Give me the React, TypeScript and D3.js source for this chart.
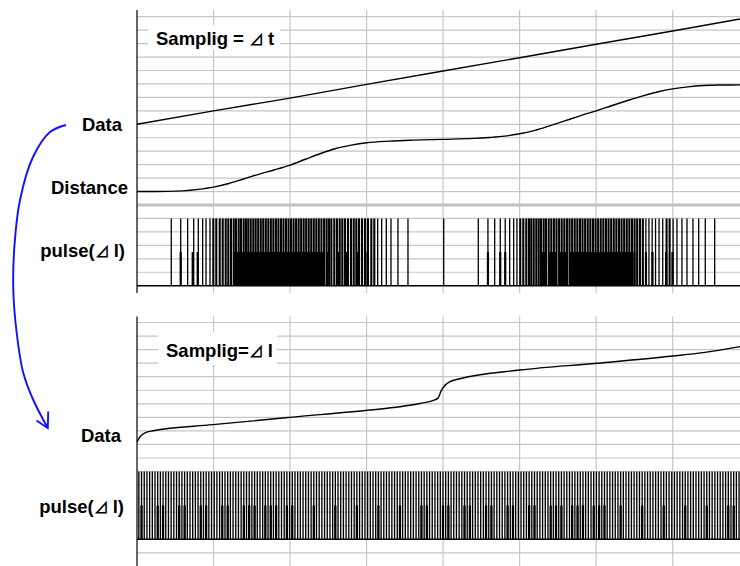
import React from 'react';
import * as d3 from 'd3';

// ---------- Upper chart: sampling every Δt (x = time, grid every 10) ----------
const TIME_GRID = [0, 10, 20, 30, 40, 50, 60, 70, 80];
const TOP_LEVELS = d3.range(0, 21);

const DATA_T = [0, 10, 20, 30, 40, 50, 60, 70, 80];
const DATA_V = [12, 13, 13.95, 14.97, 15.96, 16.95, 17.95, 18.94, 19.95];

const DIST_T = [0, 4, 6, 8, 10, 12, 14, 16, 18, 20, 22, 24, 26, 28, 30, 33, 36, 40, 44, 46, 48, 50, 52, 54, 56, 58, 60, 62, 64, 66, 68, 70, 72, 74, 76, 80];
const DIST_V = [7.0, 7.01, 7.05, 7.16, 7.33, 7.6, 7.95, 8.3, 8.62, 8.97, 9.4, 9.83, 10.2, 10.45, 10.63, 10.75, 10.82, 10.88, 10.95, 11.02, 11.12, 11.3, 11.55, 11.9, 12.27, 12.65, 13.0, 13.38, 13.75, 14.1, 14.4, 14.63, 14.78, 14.88, 14.92, 14.93];

// pulse times (one pulse per Δl of distance)
const TOP_PULSES = [
  4.48, 5.71, 6.62, 7.41, 8.01, 8.58, 9.02, 9.54, 9.97, 10.36, 10.81, 11.2, 11.59, 11.93, 12.28, 12.64, 12.94, 13.29, 13.59, 13.94, 14.24, 14.54, 14.86, 15.2, 15.51,
  15.84, 16.17, 16.5, 16.83, 17.16, 17.49, 17.82, 18.15, 18.48, 18.81, 19.14, 19.47, 19.8, 20.13, 20.46, 20.79, 21.12, 21.45, 21.78, 22.11, 22.44, 22.77, 23.1, 23.43, 23.76,
  24.1, 24.45, 24.78, 25.1, 25.4, 25.78, 26.13, 26.49, 26.83, 27.18, 27.57, 27.96, 28.32, 28.66, 29.01, 29.4, 29.79, 30.18, 30.62, 31.01, 31.45, 31.97, 32.58, 33.19, 34.1, 35.41,
  40.08, 44.6, 45.86, 46.74,
  47.47, 48.12, 48.7, 49.22, 49.65, 50.08, 50.48, 50.87, 51.22, 51.52, 51.84, 52.18, 52.49, 52.79, 53.14, 53.44, 53.8, 54.14, 54.48, 54.82, 55.16, 55.5, 55.84, 56.18,
  56.52, 56.86, 57.2, 57.54, 57.88, 58.22, 58.56, 58.9, 59.24, 59.58, 59.92, 60.26, 60.6, 60.94, 61.28, 61.62, 61.96, 62.3, 62.64, 62.98, 63.32, 63.66, 64.0, 64.34, 64.68,
  65.02, 65.36, 65.72, 66.1, 66.5, 66.9, 67.32, 67.76, 68.22, 68.7, 69.2, 69.6, 70.06, 70.56, 71.21, 71.87, 72.65, 73.4, 74.26, 75.49,
];
const TOP_BAND_START = [12.54, 52.66, 53.8, 55.1, 56.54];
const TOP_BAND_END = [24.44, 53.48, 54.88, 56.28, 64.68];
const TOP_HALF_MARKS = [5.71, 7.28, 7.93, 24.83, 26.33, 27.31, 28.88, 29.86, 45.86, 47.47, 48.12, 65.0, 66.51, 67.36, 69.15, 69.97];

// ---------- Lower chart: sampling every Δl (x = pulse count) ----------
const BOTTOM_LEVELS = d3.range(-1, 17);
const BOTTOM_PULSE_COUNT = 224;
const BOTTOM_HALF_MARKS = [1, 7, 9, 15, 17, 23, 25, 31, 33, 39, 41, 43, 47, 49, 51, 55, 57, 65, 73, 81, 89, 97, 105, 107, 113, 115, 121, 123, 129, 131, 137, 139, 145, 147, 153, 155, 157, 161, 163, 165, 169, 171, 173, 179, 187, 195, 203, 211, 219, 221];
const BDATA_D = [-0.69, 0.42, 2.28, 5.25, 27.55, 56.15, 85.87, 97.02, 104.45, 108.91, 111.14, 112.26, 113.37, 115.23, 119.32, 141.61, 170.22, 198.46, 209.6, 223.35];
const BDATA_V = [7.2, 7.57, 7.86, 8.01, 8.46, 9.0, 9.54, 9.78, 10.02, 10.22, 10.42, 10.94, 11.28, 11.6, 11.85, 12.49, 12.99, 13.53, 13.78, 14.22];

const FONT = "'Liberation Sans', Arial, 'Noto Sans CJK JP', sans-serif";
const GRID = '#c6c6c6';

export default function App() {
  const x = d3.scaleLinear().domain([0, 80]).range([137, 749.2]);
  const yT = d3.scaleLinear().domain([0, 20]).range([285.7, 16.7]);
  const xb = d3.scaleLinear().domain([-0.69, 223.35]).range([137, 740]);
  const yB = d3.scaleLinear().domain([0, 16]).range([539.3, 322.5]);

  const dataLine = d3.line<number>().x((_, i) => x(DATA_T[i])).y((v) => yT(v));
  const distLine = d3.line<number>().x((_, i) => x(DIST_T[i])).y((v) => yT(v)).curve(d3.curveMonotoneX);
  const bLine = d3.line<number>().x((_, i) => xb(BDATA_D[i])).y((v) => yB(v)).curve(d3.curveMonotoneX);

  const arrowPts: [number, number][] = [
    [66, 125], [50, 132], [33, 157], [20, 200], [14.5, 245], [13.3, 290], [16.7, 333], [23.3, 373], [33.3, 400], [47.5, 427.5],
  ];
  const arrow = d3.line().curve(d3.curveCatmullRom)(arrowPts) || '';

  const topY0 = 10, topY1 = 293;
  const botY0 = 316.5, botY1 = 566;

  const labelStyle = { fontFamily: FONT, fontSize: 18.5, fontWeight: 700, fill: '#000' } as const;
  const tri = { fontSize: 15 } as const;

  const pulseWidth = (i: number) => {
    const prev = i > 0 ? TOP_PULSES[i] - TOP_PULSES[i - 1] : 10;
    const next = i < TOP_PULSES.length - 1 ? TOP_PULSES[i + 1] - TOP_PULSES[i] : 10;
    return Math.min(prev, next) < 0.4 ? 2.1 : 1.3;
  };

  return (
    <svg width={740} height={566} style={{ position: 'absolute', left: 0, top: 0, background: '#fff' }}>
      <rect x={0} y={0} width={740} height={566} fill="#fff" />
      {/* ---------- upper grid ---------- */}
      {TOP_LEVELS.filter((k) => k !== 0 && k !== 6).map((k) => (
        <line key={'th' + k} x1={x(0)} x2={750} y1={yT(k)} y2={yT(k)} stroke={GRID} strokeWidth={1.2} />
      ))}
      <line x1={x(0)} x2={750} y1={yT(6)} y2={yT(6)} stroke="#c0c0c0" strokeWidth={3} />
      {TIME_GRID.filter((t) => t > 0).map((t) => (
        <line key={'tv' + t} x1={x(t)} x2={x(t)} y1={topY0} y2={topY1} stroke={GRID} strokeWidth={1.2} />
      ))}
      {/* ---------- lower grid ---------- */}
      {BOTTOM_LEVELS.filter((k) => k !== 0).map((k) => (
        <line key={'bh' + k} x1={x(0)} x2={750} y1={yB(k)} y2={yB(k)} stroke={GRID} strokeWidth={1.2} />
      ))}
      {TIME_GRID.filter((t) => t > 0).map((t) => (
        <line key={'bv' + t} x1={x(t)} x2={x(t)} y1={botY0} y2={botY1} stroke={GRID} strokeWidth={1.2} />
      ))}

      {/* label boxes */}
      <rect x={148} y={25} width={132} height={25} fill="#fff" />
      <rect x={158} y={332} width={119} height={33} fill="#fff" />

      {/* ---------- upper pulses ---------- */}
      {TOP_BAND_START.map((s, i) => (
        <rect key={'tb' + i} x={x(s)} width={x(TOP_BAND_END[i]) - x(s)} y={yT(2.5)} height={yT(0) - yT(2.5)} fill="#000" />
      ))}
      {TOP_HALF_MARKS.map((t, i) => (
        <line key={'thm' + i} x1={x(t)} x2={x(t)} y1={yT(0)} y2={yT(2.5)} stroke="#000" strokeWidth={2.2} />
      ))}
      {TOP_PULSES.map((t, i) => (
        <line key={'tp' + i} x1={x(t)} x2={x(t)} y1={yT(0)} y2={yT(5)} stroke="#000" strokeWidth={pulseWidth(i)} />
      ))}

      {/* ---------- lower pulses ---------- */}
      {d3.range(BOTTOM_PULSE_COUNT).map((k) => (
        <line key={'bp' + k} x1={xb(k)} x2={xb(k)} y1={yB(0)} y2={yB(5)} stroke="#000" strokeWidth={1.35} />
      ))}
      {BOTTOM_HALF_MARKS.map((k) => (
        <line key={'bhm' + k} x1={xb(k)} x2={xb(k)} y1={yB(0)} y2={yB(2.5)} stroke="#000" strokeWidth={2.3} />
      ))}

      {/* axes */}
      <line x1={x(0)} x2={x(0)} y1={topY0} y2={topY1} stroke="#000" strokeWidth={1.2} />
      <line x1={x(0)} x2={x(0)} y1={botY0} y2={botY1} stroke="#000" strokeWidth={1.2} />
      <line x1={x(0)} x2={750} y1={yT(0)} y2={yT(0)} stroke="#000" strokeWidth={1.5} />
      <line x1={x(0)} x2={750} y1={yB(0)} y2={yB(0)} stroke="#000" strokeWidth={1.5} />

      {/* lines */}
      <path d={dataLine(DATA_V) || ''} fill="none" stroke="#000" strokeWidth={1.4} />
      <path d={distLine(DIST_V) || ''} fill="none" stroke="#000" strokeWidth={1.4} />
      <path d={bLine(BDATA_V) || ''} fill="none" stroke="#000" strokeWidth={1.4} />

      {/* labels */}
      <text x={156} y={45} {...labelStyle}>Samplig = <tspan {...tri}>⊿</tspan><tspan dx={4}>t</tspan></text>
      <text x={166} y={357} {...labelStyle}>Samplig=<tspan {...tri}>⊿</tspan><tspan dx={4}>l</tspan></text>
      <text x={122} y={131} textAnchor="end" {...labelStyle}>Data</text>
      <text x={128} y={194} textAnchor="end" {...labelStyle}>Distance</text>
      <text x={125} y={257} textAnchor="end" {...labelStyle}>pulse(<tspan {...tri}>⊿</tspan><tspan dx={4}>l)</tspan></text>
      <text x={121} y={442} textAnchor="end" {...labelStyle}>Data</text>
      <text x={124} y={513} textAnchor="end" {...labelStyle}>pulse(<tspan {...tri}>⊿</tspan><tspan dx={4}>l)</tspan></text>

      {/* blue arrow */}
      <path d={arrow} fill="none" stroke="#1010ff" strokeWidth={1.9} />
      <path d="M36.5,420.5 L47.8,428 L48.2,411.5" fill="none" stroke="#1010ff" strokeWidth={1.9} />
    </svg>
  );
}
